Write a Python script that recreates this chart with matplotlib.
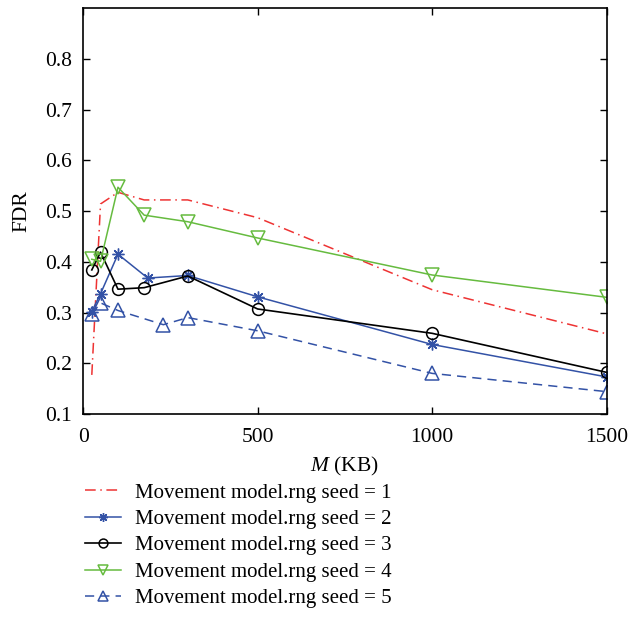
import matplotlib
matplotlib.use("Agg")
import matplotlib.pyplot as plt

plt.rcParams['font.family'] = ['Liberation Serif', 'DejaVu Serif']
plt.rcParams['mathtext.fontset'] = 'custom'
plt.rcParams['mathtext.it'] = 'Liberation Serif:italic'
plt.rcParams['mathtext.rm'] = 'Liberation Serif'

labels = ["Movement model.rng seed = 1", "Movement model.rng seed = 2",
          "Movement model.rng seed = 3", "Movement model.rng seed = 4",
          "Movement model.rng seed = 5"]

x1 = [25, 50, 100, 175, 300, 500, 1000, 1500]
y1 = [0.177, 0.514, 0.537, 0.522, 0.522, 0.487, 0.345, 0.258]
x2 = [25, 50, 100, 185, 300, 500, 1000, 1500]
y2 = [0.302, 0.337, 0.415, 0.368, 0.373, 0.331, 0.237, 0.173]
x3 = [25, 50, 100, 175, 300, 500, 1000, 1500]
y3 = [0.384, 0.419, 0.346, 0.349, 0.372, 0.307, 0.259, 0.182]
x4 = [25, 50, 100, 175, 300, 500, 1000, 1500]
y4 = [0.405, 0.401, 0.547, 0.492, 0.479, 0.447, 0.374, 0.330]
x5 = [25, 50, 100, 230, 300, 500, 1000, 1500]
y5 = [0.297, 0.319, 0.304, 0.276, 0.290, 0.264, 0.180, 0.144]

fig = plt.figure(figsize=(6.44, 6.32), dpi=100)
ax = fig.add_axes([0.129, 0.345, 0.813, 0.642])

red = '#ee3333'
blue = '#3352a6'
green = '#66bb3f'
ms = 8.5
ax.plot(x1, y1, color=red, ls=(0, (7, 3, 1, 3)), lw=1.1, label=labels[0])
ax.plot(x2, y2, color=blue, ls='-', lw=1.1, marker=(8, 2, 0), ms=ms, mew=1.0,
        label=labels[1])
ax.plot(x3, y3, color='black', ls='-', lw=1.2, marker='o', ms=ms, mfc='none',
        mew=1.1, label=labels[2])
ax.plot(x4, y4, color=green, ls='-', lw=1.1, marker='v', ms=ms + 1.5, mfc='none',
        mew=1.1, label=labels[3])
ax.plot(x5, y5, color=blue, ls=(0, (6, 4)), lw=1.1, marker='^', ms=ms + 1.5,
        mfc='none', mew=1.1, label=labels[4])

ax.set_xlim(0, 1500)
ax.set_ylim(0.1, 0.9)
ax.set_xticks([0, 500, 1000, 1500])
ax.set_yticks([0.1, 0.2, 0.3, 0.4, 0.5, 0.6, 0.7, 0.8])
ax.set_yticklabels(['0.1', '0.2', '0.3', '0.4', '0.5', '0.6', '0.7', '0.8'])
ax.tick_params(direction='in', top=True, right=True, labelsize=15.5, length=5,
               width=1)
ax.tick_params(axis='x', pad=10)
ax.tick_params(axis='y', pad=8)
for s in ax.spines.values():
    s.set_linewidth(1.2)

ax.set_xlabel(r'$\it{M}$ (KB)', fontsize=15.5)
ax.xaxis.set_label_coords(0.5, -0.1)
ax.set_ylabel('FDR', fontsize=15.5)
ax.yaxis.set_label_coords(-0.098, 0.5)

ax.legend(loc='upper left', bbox_to_anchor=(0.004, -0.17), frameon=False,
          fontsize=15, handlelength=1.7, handletextpad=0.7, labelspacing=0.33,
          borderaxespad=0, borderpad=0, markerscale=0.75)

fig.savefig('out.png', dpi=100)
